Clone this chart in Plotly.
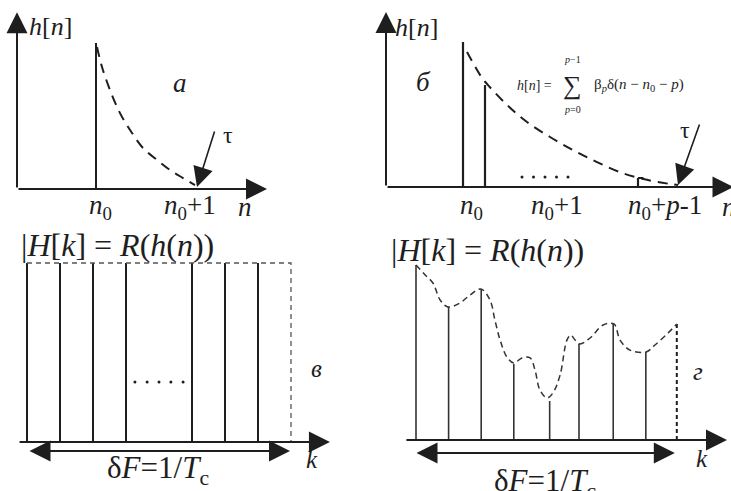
import plotly.graph_objects as go

W, H = 731, 491

# ---------------- data ----------------
# panel a (single impulse + decaying envelope)
a_stem_x = [3.16]
a_stem_h = [1.0]
a_curve_x = [3.2, 3.4, 3.72, 4.12, 4.6, 5.04, 5.6, 6.12, 6.64, 7.12]
a_curve_y = [0.973, 0.836, 0.678, 0.52, 0.384, 0.281, 0.199, 0.13, 0.075, 0.027]
a_tick_x = [3.32, 6.92]
a_tick_text = ["<i>n</i><sub>0</sub>", "<i>n</i><sub>0</sub>+1"]

# panel б (multipath impulses)
b_stem_x = [3.08, 3.96, 10.08]
b_stem_h = [1.0, 0.703, 0.062]
b_curve_x = [3.24, 3.84, 4.08, 4.84, 5.64, 6.56, 7.48, 8.44, 9.44, 10.48, 11.36, 11.68]
b_curve_y = [0.931, 0.752, 0.703, 0.566, 0.448, 0.345, 0.255, 0.172, 0.097, 0.048, 0.021, 0.014]
b_dots_x = [5.44, 5.9, 6.36, 6.82, 7.28]
b_tick_x = [3.4, 6.84, 11.16]
b_tick_text = ["<i>n</i><sub>0</sub>", "<i>n</i><sub>0</sub>+1", "<i>n</i><sub>0</sub>+<i>p</i>-1"]

# panel в (flat spectrum)
c_k = [0, 1, 2, 3, 5, 6, 7]
c_amp = [1, 1, 1, 1, 1, 1, 1]
c_k_last = 8
c_dots_x = [3.27, 3.64, 4.0, 4.36, 4.73]

# panel г (frequency-selective spectrum)
d_k = [0, 1, 2, 3, 4.1, 5, 6.05, 7.05]
d_amp = [1.0, 0.76, 0.863, 0.434, 0.223, 0.549, 0.663, 0.503]
d_k_last = 8
d_amp_last = 0.663
d_env_x = [0, 0.28, 0.52, 0.74, 0.98, 1.35, 1.66, 1.99, 2.27, 2.42, 2.58, 2.79, 3.0,
           3.25, 3.5, 3.65, 3.8, 4.02, 4.2, 4.42, 4.63, 4.75, 4.88, 5.03, 5.34, 5.74,
           6.07, 6.26, 6.56, 7.06, 7.33, 7.73, 8.0]
d_env_y = [1.0, 0.943, 0.897, 0.8, 0.76, 0.783, 0.829, 0.863, 0.8, 0.686, 0.571, 0.474, 0.44,
           0.469, 0.469, 0.4, 0.286, 0.24, 0.269, 0.371, 0.571, 0.6, 0.571, 0.549, 0.583, 0.657,
           0.663, 0.571, 0.514, 0.503, 0.543, 0.611, 0.663]

# ---------------- layout of panels (pixel geometry) ----------------
PANELS = {
    "": dict(left=0, right=365, top=0, bottom=220, ox=17, oy=189, sx=25, sy=146),
    "2": dict(left=365, right=731, top=0, bottom=220, ox=386, oy=187, sx=25, sy=145),
    "3": dict(left=0, right=365, top=220, bottom=491, ox=27, oy=442, sx=33, sy=179),
    "4": dict(left=365, right=731, top=220, bottom=491, ox=416, oy=440, sx=32.6, sy=175),
}

INK = "#1e1e1e"
SERIF = "Liberation Serif, Times New Roman, serif"

fig = go.Figure()
layout = dict(width=W, height=H, margin=dict(l=0, r=0, t=0, b=0),
              paper_bgcolor="white", plot_bgcolor="white", showlegend=False,
              font=dict(family=SERIF, size=22, color=INK))
for key, p in PANELS.items():
    layout["xaxis" + key] = dict(domain=[p["left"] / W, p["right"] / W],
                                 range=[(p["left"] - p["ox"]) / p["sx"], (p["right"] - p["ox"]) / p["sx"]],
                                 visible=False, fixedrange=True)
    layout["yaxis" + key] = dict(domain=[1 - p["bottom"] / H, 1 - p["top"] / H],
                                 range=[(p["oy"] - p["bottom"]) / p["sy"], (p["oy"] - p["top"]) / p["sy"]],
                                 visible=False, fixedrange=True)
fig.update_layout(**layout)

def ax(key):
    return dict(xaxis="x" + key, yaxis="y" + key)

def stems(xs, hs):
    X, Y = [], []
    for x, h in zip(xs, hs):
        X += [x, x, None]
        Y += [0, h, None]
    return X, Y

ann = []

def arrow(key, x0, y0, x1, y1, width=2, size=2.1, both=False):
    d = dict(x=x1, y=y1, ax=x0, ay=y0, xref="x" + key, yref="y" + key,
             axref="x" + key, ayref="y" + key, text="", showarrow=True,
             arrowhead=2, arrowsize=size, arrowwidth=width, arrowcolor=INK)
    if both:
        d.update(arrowside="end+start", startarrowhead=2, startarrowsize=size)
    ann.append(d)

def label(key, x, y, text, size=22):
    ann.append(dict(x=x, y=y, xref="x" + key, yref="y" + key, text=text, showarrow=False,
                    font=dict(family=SERIF, size=size, color=INK)))

# ---------- panel a ----------
sx, sy = stems(a_stem_x, a_stem_h)
fig.add_trace(go.Scatter(x=sx, y=sy, mode="lines", line=dict(color=INK, width=2), **ax("")))
fig.add_trace(go.Scatter(x=a_curve_x, y=a_curve_y, mode="lines", line=dict(color=INK, width=2, dash="10px,7px", shape="spline"), **ax("")))
arrow("", 0, 0, 0, 1.21)
arrow("", 0, 0, 10.0, 0)
arrow("", 7.92, 0.404, 7.2, 0.014, width=1.6, size=2.5)
for x, t in zip(a_tick_x, a_tick_text):
    label("", x, -0.123, t, size=27)
label("", 9.12, -0.12, "<i>n</i>", size=27)
label("", 1.32, 1.11, "<i>h</i>[<i>n</i>]", size=26)
label("", 6.52, 0.726, "<i>а</i>", size=27)
label("", 8.44, 0.37, "τ", size=24)

# ---------- panel б ----------
sx, sy = stems(b_stem_x, b_stem_h)
fig.add_trace(go.Scatter(x=sx, y=sy, mode="lines", line=dict(color=INK, width=2.2), **ax("2")))
fig.add_trace(go.Scatter(x=[b_stem_x[-1], b_stem_x[-1] + 0.22], y=[b_stem_h[-1]] * 2, mode="lines",
                         line=dict(color=INK, width=2), **ax("2")))
fig.add_trace(go.Scatter(x=b_curve_x, y=b_curve_y, mode="lines", line=dict(color=INK, width=2, dash="10px,7px", shape="spline"), **ax("2")))
fig.add_trace(go.Scatter(x=b_dots_x, y=[0.069] * len(b_dots_x), mode="markers",
                         marker=dict(color=INK, size=3), **ax("2")))
arrow("2", 0, 0, 0, 1.207)
arrow("2", 0, 0, 13.9, 0)
arrow("2", 12.56, 0.441, 11.68, 0.014, width=1.6, size=2.5)
for x, t in zip(b_tick_x, b_tick_text):
    label("2", x, -0.138, t, size=27)
label("2", 13.72, -0.138, "<i>n</i>", size=27)
label("2", 1.2, 1.103, "<i>h</i>[<i>n</i>]", size=26)
label("2", 1.48, 0.724, "<i>б</i>", size=27)
label("2", 11.96, 0.393, "τ", size=24)
label("2", 5.92, 0.703, "<i>h</i>[<i>n</i>] =", size=14)
label("2", 7.44, 0.70, "∑", size=26)
label("2", 7.44, 0.88, "<i>p</i>−1", size=10)
label("2", 7.44, 0.535, "<i>p</i>=0", size=10)
label("2", 10.1, 0.703, "β<sub><i>p</i></sub>δ(<i>n</i> − <i>n</i><sub>0</sub> − <i>p</i>)", size=15)

# ---------- panel в ----------
sx, sy = stems(c_k, c_amp)
fig.add_trace(go.Scatter(x=sx, y=sy, mode="lines", line=dict(color=INK, width=2), **ax("3")))
fig.add_trace(go.Scatter(x=[c_k[0], c_k_last, c_k_last], y=[1, 1, 0], mode="lines",
                         line=dict(color="#555555", width=1.3, dash="5px,4px"), **ax("3")))
fig.add_trace(go.Scatter(x=c_dots_x, y=[0.335] * len(c_dots_x), mode="markers",
                         marker=dict(color=INK, size=3), **ax("3")))
arrow("3", -0.27, 0, 9.18, 0)
arrow("3", 0.03, -0.05, 7.97, -0.05, width=2, size=2.1, both=True)
label("3", 2.73, 1.10, "|<i>H</i>[<i>k</i>] = <i>R</i>(<i>h</i>(<i>n</i>))", size=32)
label("3", 3.97, -0.156, "δ<i>F</i>=1/<i>T</i><sub>c</sub>", size=31)
label("3", 8.64, -0.10, "<i>k</i>", size=25)
label("3", 8.76, 0.413, "<i>в</i>", size=25)

# ---------- panel г ----------
sx, sy = stems(d_k, d_amp)
fig.add_trace(go.Scatter(x=sx, y=sy, mode="lines", line=dict(color="#333333", width=1.6), **ax("4")))
fig.add_trace(go.Scatter(x=[d_k_last, d_k_last], y=[0, d_amp_last], mode="lines",
                         line=dict(color=INK, width=2, dash="4px,3px"), **ax("4")))
fig.add_trace(go.Scatter(x=d_env_x, y=d_env_y, mode="lines",
                         line=dict(color="#333333", width=1.5, dash="6px,4px", shape="spline"), **ax("4")))
arrow("4", -0.34, 0, 9.54, 0)
arrow("4", -0.03, -0.074, 7.94, -0.074, width=2, size=2.1, both=True)
label("4", 2.18, 1.086, "|<i>H</i>[<i>k</i>] = <i>R</i>(<i>h</i>(<i>n</i>))", size=32)
label("4", 3.96, -0.246, "δ<i>F</i>=1/<i>T</i><sub>c</sub>", size=31)
label("4", 8.77, -0.103, "<i>k</i>", size=25)
label("4", 8.65, 0.389, "<i>г</i>", size=25)

fig.update_layout(annotations=ann)
fig.write_html("out.html")
